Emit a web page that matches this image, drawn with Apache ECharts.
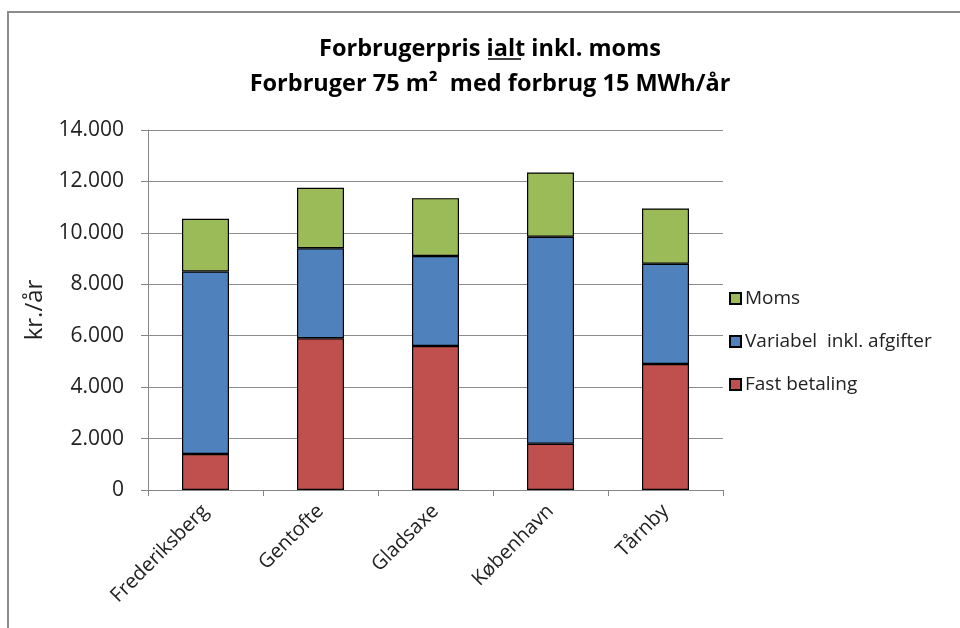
<!DOCTYPE html>
<html>
<head>
<meta charset="utf-8">
<script src="https://cdn.jsdelivr.net/npm/echarts@6/dist/echarts.min.js"></script>
<style>
  html, body { margin: 0; padding: 0; background: #fff; }
  #chart { width: 960px; height: 628px; }
</style>
</head>
<body>
<div id="chart"></div>
<script>
// kommuner
const categories = ['Frederiksberg', 'Gentofte', 'Gladsaxe', 'København', 'Tårnby']
// kr./år, stablede
const fastBetaling = [1400, 5900, 5600, 1800, 4900]
const variabel = [7100, 3500, 3500, 8050, 3900]
const moms = [2050, 2350, 2250, 2500, 2150]

const fontFamily = '"Open Sans", Lato, sans-serif'

const chart = echarts.init(document.getElementById('chart'))

const barBorder = { borderColor: '#000', borderWidth: 1.2 }

const option = {
  backgroundColor: '#fff',
  textStyle: { fontFamily: fontFamily },
  animation: false,
  title: {
    text: 'Forbrugerpris ialt inkl. moms\nForbruger 75 m²  med forbrug 15 MWh/år',
    left: 485,
    textAlign: 'center',
    top: 27,
    textStyle: {
      fontFamily: fontFamily,
      fontSize: 23.5,
      fontWeight: 'bold',
      color: '#000',
      lineHeight: 35,
    },
  },
  graphic: [
    // ramme oppe og til venstre
    {
      type: 'polyline',
      shape: { points: [[8, 700], [8, 12], [1000, 12]] },
      style: { stroke: '#8c8c8c', lineWidth: 2, fill: null },
    },
    // understregning af "ialt"
    {
      type: 'line',
      shape: { x1: 488, y1: 59, x2: 521, y2: 59 },
      style: { stroke: '#000', lineWidth: 1.5 },
    },
  ],
  legend: {
    orient: 'vertical',
    left: 729,
    top: 288,
    padding: 0,
    itemWidth: 11,
    itemHeight: 11,
    itemGap: 22,
    icon: 'rect',
    data: ['Moms', 'Variabel  inkl. afgifter', 'Fast betaling'],
    textStyle: { fontFamily: fontFamily, fontSize: 19, lineHeight: 21, color: '#222', padding: [0, 0, 0, -1] },
  },
  grid: {
    left: 148,
    right: 237,
    top: 130,
    bottom: 138,
  },
  xAxis: {
    type: 'category',
    data: categories,
    axisLine: { lineStyle: { color: '#868686', width: 1 } },
    axisTick: { show: true, length: 6, lineStyle: { color: '#868686' } },
    axisLabel: {
      rotate: 45,
      fontSize: 20,
      color: '#222',
      margin: 18,
      interval: 0,
    },
  },
  yAxis: {
    type: 'value',
    min: 0,
    max: 14000,
    interval: 2000,
    name: 'kr./år',
    nameLocation: 'middle',
    nameGap: 97,
    nameTextStyle: { fontSize: 24, color: '#222' },
    axisLine: { show: true, lineStyle: { color: '#868686', width: 1 } },
    axisTick: { show: true, length: 7, lineStyle: { color: '#868686' } },
    axisLabel: {
      fontSize: 21,
      color: '#222',
      margin: 24,
      formatter: (v) => (v === 0 ? '0' : v.toLocaleString('de-DE')),
    },
    splitLine: { lineStyle: { color: '#8c8c8c', width: 1.2 } },
  },
  series: [
    {
      name: 'Fast betaling',
      type: 'bar',
      stack: 'total',
      barWidth: 47,
      data: fastBetaling,
      itemStyle: Object.assign({ color: '#C0504D' }, barBorder),
    },
    {
      name: 'Variabel  inkl. afgifter',
      type: 'bar',
      stack: 'total',
      barWidth: 47,
      data: variabel,
      itemStyle: Object.assign({ color: '#4F81BD' }, barBorder),
    },
    {
      name: 'Moms',
      type: 'bar',
      stack: 'total',
      barWidth: 47,
      data: moms,
      itemStyle: Object.assign({ color: '#9BBB59' }, barBorder),
    },
  ],
}

chart.setOption(option)

window.addEventListener('resize', function () {
  chart.resize()
})
</script>
</body>
</html>
